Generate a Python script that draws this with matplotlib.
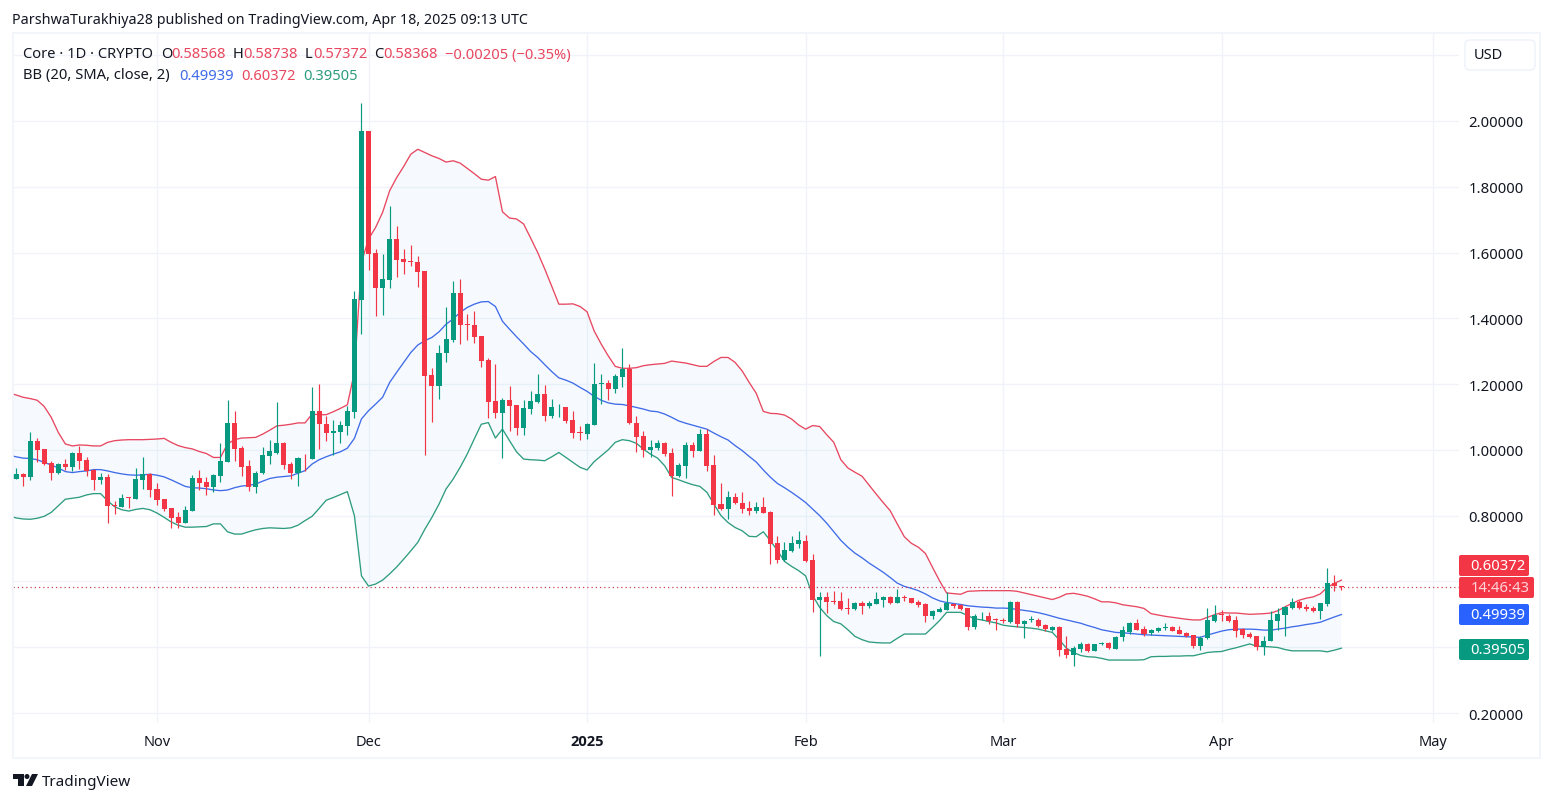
import numpy as np
import pandas as pd
import matplotlib
matplotlib.use("Agg")
import matplotlib.pyplot as plt
import matplotlib.dates as mdates
from matplotlib.patches import FancyBboxPatch, Rectangle, Polygon, Circle

plt.rcParams['font.family'] = ['Noto Sans', 'DejaVu Sans']

W, H = 1553, 803
GREEN = '#089981'
RED = '#F23645'
BLUE = '#2962FF'
GRID = '#F0F3FA'
TEXT = '#131722'

# daily candles, 2024-10-12 .. 2025-04-18
opens = [
    .911, .926, .918, 1.027, 1.002, .960, .929, .957, .948, .990,
    .969, .939, .909, .917, .832, .825, .856, .850, .909, .926,
    .881, .850, .822, .795, .777, .815, .914, .901, .887, .921,
    .964, 1.083, 1.005, .950, .887, .929, .982, .992, 1.021, .957,
    .929, .976, .972, 1.118, 1.080, 1.052, 1.053, 1.073, 1.116, 1.456,
    1.969, 1.598, 1.493, 1.517, 1.641, 1.580, 1.574, 1.571, 1.544, 1.227,
    1.195, 1.294, 1.334, 1.477, 1.382, 1.379, 1.346, 1.273, 1.148, 1.112,
    1.151, 1.136, 1.066, 1.124, 1.147, 1.170, 1.104, 1.129, 1.131, 1.091,
    1.054, 1.048, 1.076, 1.200, 1.202, 1.185, 1.221, 1.246, 1.083, 1.041,
    1.000, 1.005, 1.021, .990, .921, .952, 1.015, .997, 1.048, .954,
    .834, .821, .856, .840, .823, .814, .827, .811, .717, .665,
    .692, .714, .722, .664, .544, .552, .541, .541, .519, .516,
    .534, .524, .532, .544, .552, .534, .553, .549, .536, .531,
    .494, .508, .514, .532, .527, .518, .461, .494, .494, .486,
    .483, .476, .538, .472, .483, .483, .467, .453, .461, .395,
    .377, .396, .410, .389, .409, .412, .396, .430, .445, .474,
    .455, .443, .450, .458, .461, .452, .443, .436, .405, .427,
    .479, .500, .494, .482, .454, .439, .433, .400, .418, .481,
    .498, .519, .537, .521, .519, .511, .532, .595, .58568,
]
highs = [
    .945, .931, 1.053, 1.035, 1.004, .965, .960, .972, .995, 1.013,
    .977, .942, .929, .926, .844, .866, .858, .945, .977, .929,
    .898, .852, .822, .810, .830, .923, .939, .918, .926, 1.021,
    1.151, 1.118, 1.013, .969, .937, 1.010, 1.031, 1.146, 1.023, .962,
    .979, .987, 1.190, 1.200, 1.102, 1.091, 1.087, 1.134, 1.484, 2.056,
    1.969, 1.611, 1.595, 1.742, 1.681, 1.611, 1.624, 1.588, 1.544, 1.248,
    1.320, 1.433, 1.512, 1.519, 1.413, 1.421, 1.346, 1.278, 1.261, 1.159,
    1.193, 1.136, 1.151, 1.178, 1.230, 1.197, 1.154, 1.139, 1.131, 1.117,
    1.073, 1.083, 1.264, 1.230, 1.212, 1.230, 1.309, 1.261, 1.104, 1.058,
    1.031, 1.031, 1.023, 1.007, .960, 1.023, 1.023, 1.063, 1.065, .984,
    .898, .876, .869, .871, .846, .843, .856, .814, .737, .719,
    .737, .752, .741, .682, .567, .567, .572, .569, .549, .536,
    .542, .541, .567, .557, .555, .577, .559, .551, .543, .533,
    .512, .522, .567, .534, .531, .518, .500, .506, .506, .488,
    .489, .540, .540, .482, .494, .490, .470, .465, .463, .433,
    .405, .417, .412, .411, .417, .415, .435, .465, .476, .486,
    .465, .455, .461, .474, .463, .463, .447, .437, .433, .518,
    .528, .514, .502, .494, .457, .445, .435, .435, .510, .518,
    .526, .549, .545, .530, .526, .534, .640, .620, .58738,
]
lows = [
    .911, .891, .909, .962, .954, .909, .926, .939, .936, .942,
    .921, .878, .896, .779, .805, .825, .823, .850, .881, .858,
    .833, .815, .764, .763, .777, .815, .878, .864, .871, .903,
    .964, .967, .921, .876, .869, .926, .957, .987, .942, .911,
    .891, .937, .972, 1.002, 1.028, .985, 1.021, 1.045, 1.097, 1.352,
    1.547, 1.408, 1.410, 1.493, 1.526, 1.535, 1.560, 1.496, .985, 1.086,
    1.154, 1.268, 1.327, 1.322, 1.335, 1.325, 1.251, 1.096, 1.097, .975,
    1.058, 1.045, 1.045, 1.109, 1.144, 1.089, 1.096, 1.099, 1.081, 1.036,
    1.031, 1.033, 1.076, 1.139, 1.152, 1.173, 1.190, 1.078, .994, .979,
    .979, 1.000, .982, .860, .919, .913, .979, .997, .936, .802,
    .818, .790, .835, .808, .802, .808, .808, .653, .656, .663,
    .690, .702, .658, .506, .372, .504, .531, .514, .501, .514,
    .501, .518, .530, .522, .532, .534, .541, .533, .522, .476,
    .486, .506, .512, .518, .512, .453, .455, .484, .471, .453,
    .474, .474, .462, .429, .476, .462, .449, .449, .374, .366,
    .342, .386, .384, .388, .407, .395, .395, .418, .440, .451,
    .435, .438, .447, .453, .448, .439, .432, .399, .393, .425,
    .478, .480, .478, .431, .427, .429, .392, .377, .418, .453,
    .435, .515, .516, .511, .506, .486, .526, .572, .57372,
]
closes = [
    .926, .917, 1.027, 1.000, .957, .929, .957, .948, .990, .966,
    .937, .908, .917, .830, .828, .855, .854, .911, .926, .878,
    .847, .820, .793, .777, .817, .914, .899, .887, .923, .966,
    1.083, 1.002, .949, .887, .931, .984, .996, 1.021, .954, .929,
    .975, .974, 1.118, 1.078, 1.051, 1.057, 1.075, 1.118, 1.458, 1.969,
    1.595, 1.493, 1.519, 1.641, 1.578, 1.571, 1.572, 1.542, 1.225, 1.195,
    1.296, 1.337, 1.477, 1.380, 1.380, 1.344, 1.271, 1.146, 1.112, 1.151,
    1.134, 1.066, 1.126, 1.148, 1.170, 1.104, 1.130, 1.131, 1.088, 1.052,
    1.052, 1.078, 1.200, 1.202, 1.185, 1.225, 1.246, 1.081, 1.040, 1.000,
    1.009, 1.021, .987, .921, .954, 1.015, .997, 1.048, .952, .832,
    .821, .856, .838, .820, .815, .827, .808, .715, .665, .695,
    .717, .726, .662, .545, .553, .538, .537, .516, .517, .534,
    .525, .534, .547, .552, .534, .552, .551, .535, .529, .495,
    .510, .516, .534, .524, .517, .461, .494, .496, .481, .483,
    .481, .538, .471, .480, .485, .465, .455, .462, .393, .376,
    .397, .409, .388, .409, .412, .397, .432, .451, .474, .453,
    .441, .453, .458, .460, .450, .441, .434, .405, .429, .483,
    .498, .498, .480, .450, .437, .432, .402, .418, .483, .500,
    .521, .536, .519, .517, .510, .533, .595, .585, .58368,
]

# bollinger bands, 2024-10-11 .. 2025-04-18
bb_upper = [
    1.173, 1.167, 1.160, 1.156, 1.151, 1.132, 1.099, 1.053, 1.018, 1.012,
    1.015, 1.014, 1.012, 1.012, 1.023, 1.028, 1.030, 1.031, 1.031, 1.031,
    1.032, 1.033, 1.035, 1.023, 1.013, 1.007, 1.003, .995, .989, .977,
    .977, 1.018, 1.031, 1.036, 1.037, 1.038, 1.048, 1.060, 1.073, 1.075,
    1.078, 1.082, 1.082, 1.109, 1.107, 1.107, 1.116, 1.126, 1.137, 1.236,
    1.570, 1.641, 1.676, 1.722, 1.788, 1.828, 1.862, 1.899, 1.914, 1.904,
    1.894, 1.886, 1.875, 1.879, 1.872, 1.856, 1.840, 1.823, 1.820, 1.831,
    1.724, 1.705, 1.702, 1.687, 1.644, 1.600, 1.550, 1.497, 1.443, 1.443,
    1.444, 1.436, 1.420, 1.362, 1.322, 1.286, 1.254, 1.248, 1.248, 1.250,
    1.256, 1.259, 1.261, 1.263, 1.270, 1.267, 1.264, 1.259, 1.254, 1.254,
    1.269, 1.281, 1.281, 1.266, 1.240, 1.205, 1.172, 1.117, 1.111, 1.110,
    1.106, 1.094, 1.076, 1.063, 1.074, 1.071, 1.046, 1.023, .970, .945,
    .932, .920, .893, .866, .840, .815, .775, .736, .716, .704,
    .685, .643, .602, .565, .563, .561, .570, .571, .572, .572,
    .572, .572, .572, .570, .565, .560, .555, .550, .545, .552,
    .562, .564, .560, .555, .547, .538, .538, .535, .529, .526,
    .523, .518, .502, .498, .494, .491, .488, .485, .483, .483,
    .491, .499, .505, .504, .504, .502, .500, .501, .502, .504,
    .511, .523, .533, .543, .549, .553, .562, .582, .594, .604,
]
bb_basis = [
    .984, .979, .975, .974, .970, .962, .954, .945, .934, .931,
    .934, .936, .940, .940, .936, .931, .927, .924, .923, .924,
    .926, .923, .918, .909, .899, .889, .885, .884, .882, .878,
    .876, .878, .885, .890, .892, .896, .905, .913, .917, .919,
    .921, .929, .937, .957, .970, .979, .987, .994, 1.005, 1.035,
    1.094, 1.119, 1.139, 1.160, 1.205, 1.236, 1.266, 1.296, 1.319, 1.332,
    1.342, 1.359, 1.382, 1.398, 1.418, 1.433, 1.443, 1.450, 1.451, 1.436,
    1.391, 1.367, 1.344, 1.322, 1.299, 1.281, 1.259, 1.238, 1.219, 1.212,
    1.203, 1.190, 1.178, 1.163, 1.151, 1.143, 1.139, 1.138, 1.134, 1.129,
    1.124, 1.118, 1.116, 1.109, 1.099, 1.088, 1.081, 1.075, 1.069, 1.063,
    1.051, 1.040, 1.030, 1.013, .998, .980, .963, .939, .917, .898,
    .885, .871, .856, .840, .820, .800, .777, .751, .725, .704,
    .686, .672, .656, .642, .628, .612, .595, .585, .579, .572,
    .562, .550, .541, .536, .533, .530, .526, .524, .522, .521,
    .519, .519, .518, .515, .512, .509, .505, .500, .494, .488,
    .483, .478, .473, .466, .460, .453, .449, .445, .444, .442,
    .440, .438, .437, .436, .435, .434, .433, .432, .431, .430,
    .437, .443, .449, .453, .455, .455, .455, .454, .452, .452,
    .455, .458, .462, .465, .469, .472, .476, .484, .492, .49939,
]
bb_lower = [
    .800, .793, .790, .789, .792, .798, .810, .830, .850, .853,
    .856, .863, .867, .867, .845, .827, .818, .814, .819, .822,
    .818, .808, .795, .781, .771, .765, .765, .766, .767, .775,
    .775, .751, .744, .744, .751, .757, .761, .763, .762, .761,
    .763, .771, .785, .798, .822, .847, .855, .864, .873, .800,
    .617, .586, .592, .604, .623, .644, .668, .693, .719, .759,
    .795, .835, .881, .911, .947, .987, 1.033, 1.078, 1.083, 1.036,
    1.063, 1.028, .994, .972, .970, .969, .967, .979, .992, .977,
    .962, .947, .939, .964, .982, 1.000, 1.023, 1.031, 1.028, 1.020,
    1.002, .987, .975, .952, .916, .909, .901, .894, .889, .871,
    .835, .800, .779, .764, .754, .737, .736, .751, .724, .694,
    .661, .646, .633, .617, .557, .521, .496, .478, .471, .453,
    .433, .423, .416, .414, .413, .413, .427, .440, .440, .440,
    .440, .460, .481, .506, .506, .506, .496, .486, .483, .478,
    .474, .467, .464, .462, .460, .458, .455, .450, .445, .422,
    .397, .384, .375, .371, .370, .366, .361, .361, .361, .361,
    .361, .362, .371, .372, .372, .373, .373, .374, .374, .379,
    .384, .386, .387, .393, .398, .404, .410, .403, .402, .401,
    .399, .393, .389, .389, .389, .389, .389, .386, .391, .397,
]

last_close = 0.58368
price_ticks = [0.2, 0.4, 0.6, 0.8, 1.0, 1.2, 1.4, 1.6, 1.8, 2.0, 2.2]
# 0.4 and 0.6 sit under the value tags, 2.2 under the currency button
price_labels = ['0.20000', '', '', '0.80000', '1.00000', '1.20000', '1.40000', '1.60000', '1.80000', '2.00000', '']
month_ticks = ['2024-11-01', '2024-12-01', '2025-01-01', '2025-02-01', '2025-03-01', '2025-04-01', '2025-05-01']
month_labels = ['Nov', 'Dec', '2025', 'Feb', 'Mar', 'Apr', 'May']

candle_dates = pd.date_range('2024-10-12', periods=len(closes))
band_dates = pd.date_range('2024-10-11', periods=len(bb_upper))

fig = plt.figure(figsize=(W / 100, H / 100), dpi=100, facecolor='white')

# price pane, placed in pixels
PX_L, PX_R, PX_T, PX_B = 13, 1459, 34, 724
ax = fig.add_axes([PX_L / W, 1 - PX_B / H, (PX_R - PX_L) / W, (PX_B - PX_T) / H])
nov1 = mdates.date2num(pd.Timestamp('2024-11-01'))
px_per_day = 7.05
ax.set_xlim(nov1 + (PX_L - 157) / px_per_day, nov1 + (PX_R - 157) / px_per_day)
px_per_unit = 328.9
ax.set_ylim(0.2 - (PX_B - 714) / px_per_unit, 0.2 + (714 - PX_T) / px_per_unit)
for s in ax.spines.values():
    s.set_visible(False)

ax.set_yticks(price_ticks)
ax.set_yticklabels(price_labels)
ax.yaxis.tick_right()
ax.set_xticks([mdates.date2num(pd.Timestamp(d)) for d in month_ticks])
ax.set_xticklabels(month_labels)
ax.tick_params(axis='y', length=0, pad=7, labelsize=10.7, labelcolor=TEXT)
ax.tick_params(axis='x', length=0, pad=8, labelsize=10.5, labelcolor=TEXT)
ax.get_xticklabels()[2].set_fontfamily(['Open Sans', 'DejaVu Sans'])
ax.get_xticklabels()[2].set_fontweight('bold')
ax.grid(True, color=GRID, lw=1.0)
ax.set_axisbelow(True)

band_x = mdates.date2num(band_dates)
ax.fill(np.concatenate([band_x, band_x[::-1]]),
        np.concatenate([bb_upper, np.array(bb_lower)[::-1]]),
        color='#2196F3', alpha=0.04, lw=0, zorder=1)
ax.plot(band_x, bb_upper, color='#E8475F', lw=0.95, zorder=2)
ax.plot(band_x, bb_basis, color='#3F6BE8', lw=0.95, zorder=2)
ax.plot(band_x, bb_lower, color='#2E9C7F', lw=0.95, zorder=2)

ax.axhline(last_close, color='#C9405C', lw=0.9, ls=(0, (1, 2.4)), zorder=2)

# candles
opens = np.array(opens)
closes = np.array(closes)
candle_x = mdates.date2num(candle_dates)
colors = [GREEN if c >= o else RED for o, c in zip(opens, closes)]
ax.vlines(candle_x, lows, highs, colors=colors, lw=0.85, zorder=3)
ax.bar(candle_x, np.abs(closes - opens), bottom=np.minimum(opens, closes),
       width=0.72, color=colors, lw=0, zorder=4)

# page furniture, in pixels
ov = fig.add_axes([0, 0, 1, 1], facecolor='none')
ov.set_xlim(0, W)
ov.set_ylim(H, 0)
ov.axis('off')

ov.add_patch(Rectangle((13, 34), 1527, 725, fill=False, ec=GRID, lw=1.2))
ov.text(12, 20.5, 'ParshwaTurakhiya28 published on TradingView.com, Apr 18, 2025 09:13 UTC',
        fontsize=10.25, color=TEXT, va='center')


def legend(x, y, s, color=TEXT):
    ov.text(x, y, s, fontsize=10.6, color=color, va='center')


LEG_RED = '#E8475F'
legend(23, 55, 'Core · 1D · CRYPTO')
for lx, letter, vx, val in [(161, 'O', 171, '0.58568'), (233, 'H', 243, '0.58738'),
                            (305, 'L', 313, '0.57372'), (374, 'C', 383, '0.58368')]:
    legend(lx, 55, letter)
    legend(vx, 55, val, LEG_RED)
legend(445, 55, '−0.00205 (−0.35%)', LEG_RED)
legend(23, 76, 'BB (20, SMA, close, 2)')
legend(179, 76, '0.49939', '#3F6BE8')
legend(241, 76, '0.60372', LEG_RED)
legend(303, 76, '0.39505', '#2E9C7F')

# USD button
ov.add_patch(FancyBboxPatch((1465, 41), 70, 30, boxstyle='round,pad=0,rounding_size=5',
                            fc='white', ec=GRID, lw=1.2))
ov.text(1488, 55.5, 'USD', fontsize=10.5, color=TEXT, va='center', ha='center')


def price_tag(y0, y1, x1, s, color, tcolor='white'):
    ov.add_patch(FancyBboxPatch((1459, y0), x1 - 1459, y1 - y0,
                                boxstyle='round,pad=0,rounding_size=2', fc=color, ec='none'))
    ov.text((1459 + x1 + 8) / 2, (y0 + y1) / 2 + 0.5, s, fontsize=10.7, color=tcolor, va='center', ha='center')


price_tag(556, 577, 1529, '0.60372', RED)
price_tag(578, 599, 1534, '14:46:43', RED, '#FFD5DA')
price_tag(605, 626, 1529, '0.49939', BLUE)
price_tag(640, 661, 1529, '0.39505', GREEN)

# logo
ov.add_patch(Polygon([(13, 775), (24, 775), (24, 787), (18, 787), (18, 780), (13, 780)],
                     fc=TEXT, ec='none'))
ov.add_patch(Circle((27, 777.5), 2.5, fc=TEXT, ec='none'))
ov.add_patch(Polygon([(32, 775), (38, 775), (32, 787), (26, 787)], fc=TEXT, ec='none'))
ov.text(42, 783, 'TradingView', fontsize=11, color=TEXT, va='center')

fig.savefig('out.png', dpi=100, facecolor='white')
